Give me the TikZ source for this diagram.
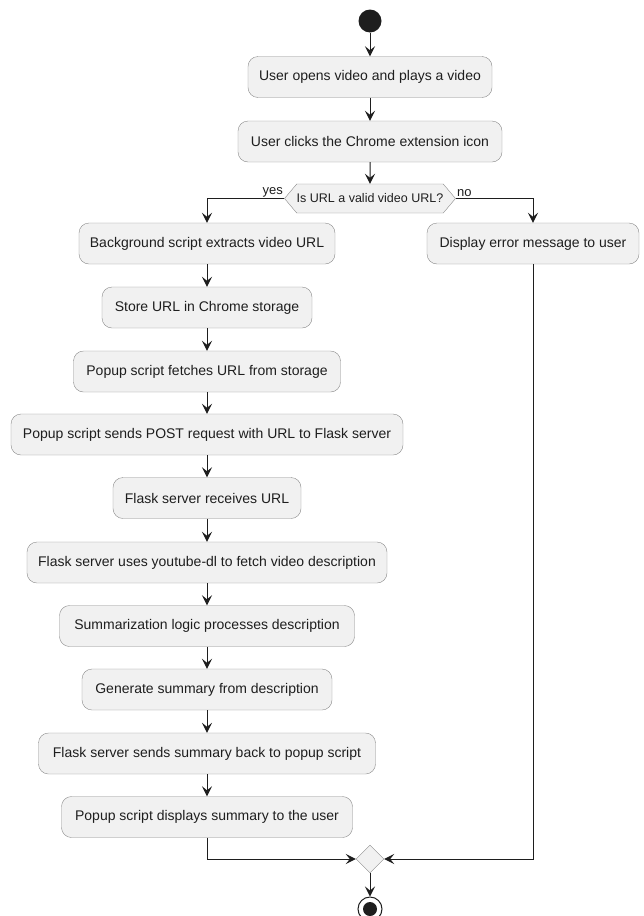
\documentclass[tikz,border=0pt]{standalone}
\usepackage{fontspec}
\setmainfont{Liberation Sans}
\usetikzlibrary{arrows.meta,shapes.geometric,shapes.symbols}

\definecolor{boxfill}{HTML}{F1F1F1}
\definecolor{boxline}{HTML}{8A8A8A}
\definecolor{ink}{HTML}{1E1E1E}

\tikzset{
  action/.style={draw=boxline, fill=boxfill, rounded corners=10pt, minimum height=41pt,
    inner sep=0pt, text=ink, font=\fontsize{14}{16}\selectfont},
  decision/.style={signal, signal to=west and east, signal pointer angle=100, draw=boxline,
    fill=boxfill, minimum height=29pt, inner xsep=0pt, inner ysep=1pt, text=ink,
    font=\fontsize{12.5}{14}\selectfont},
  merge/.style={diamond, draw=boxline, fill=boxfill, minimum width=28pt, minimum height=28pt, inner sep=0pt},
  flow/.style={draw=ink, line width=1pt, -{Stealth[length=10pt,width=10pt,inset=4pt]}},
  branch/.style={text=ink, inner sep=1pt, font=\fontsize{13}{14}\selectfont},
}

\begin{document}
\begin{tikzpicture}[x=1pt,y=-1pt]

% Page frame (pixel coordinates, y going down)
\useasboundingbox (0,0) rectangle (643,916);

% Start
\node[circle, fill=ink, minimum size=23pt, inner sep=0pt] (start) at (370,21) {};

% Actions before the check
\node[action, minimum width=244pt] (open) at (370,77) {User opens video and plays a video};
\node[action, minimum width=264pt] (click) at (370,141.5) {User clicks the Chrome extension icon};

% The check
\node[decision] (check) at (370,198.5) {Is URL a valid video URL?};

% yes branch
\node[action, minimum width=256pt] (bg) at (207,243.5) {Background script extracts video URL};
\node[action, minimum width=210pt] (store) at (207,307.5) {Store URL in Chrome storage};
\node[action, minimum width=267pt] (fetch) at (207,371.5) {Popup script fetches URL from storage};
\node[action, minimum width=392pt] (post) at (207,434.5) {Popup script sends POST request with URL to Flask server};
\node[action, minimum width=188pt] (recv) at (207,498) {Flask server receives URL};
\node[action, minimum width=360pt] (ytdl) at (207,562.5) {Flask server uses youtube-dl to fetch video description};
\node[action, minimum width=295pt] (summ) at (207,626) {Summarization logic processes description};
\node[action, minimum width=250pt] (gen) at (207,689.5) {Generate summary from description};
\node[action, minimum width=337pt] (send) at (207,753.5) {Flask server sends summary back to popup script};
\node[action, minimum width=291pt] (disp) at (207,817) {Popup script displays summary to the user};

% no branch
\node[action, minimum width=212pt] (err) at (533,243.5) {Display error message to user};

% Merge and end
\node[merge] (join) at (370,859) {};
\node[circle, draw=ink, line width=1pt, fill=white, minimum size=24pt, inner sep=0pt] (stop) at (370,909) {};
\node[circle, fill=ink, minimum size=14pt, inner sep=0pt] (stopdot) at (stop) {};

% Arrows
\draw[flow] (start) -- (open);
\draw[flow] (open) -- (click);
\draw[flow] (click) -- (check);
\draw[flow] (check.west) -| (bg) node[pos=0, anchor=south east, branch] {yes};
\draw[flow] (check.east) -| (err) node[pos=0, anchor=south west, branch] {no};
\draw[flow] (bg) -- (store);
\draw[flow] (store) -- (fetch);
\draw[flow] (fetch) -- (post);
\draw[flow] (post) -- (recv);
\draw[flow] (recv) -- (ytdl);
\draw[flow] (ytdl) -- (summ);
\draw[flow] (summ) -- (gen);
\draw[flow] (gen) -- (send);
\draw[flow] (send) -- (disp);
\draw[flow] (disp) |- (join.west);
\draw[flow] (err) |- (join.east);
\draw[flow] (join) -- (stop);

\end{tikzpicture}
\end{document}
